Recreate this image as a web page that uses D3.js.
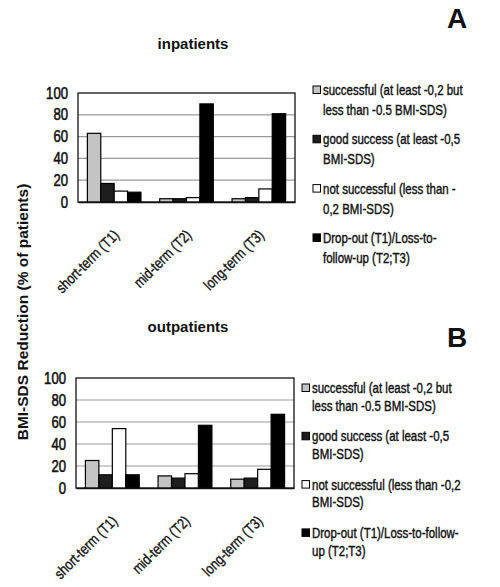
<!DOCTYPE html>
<html><head><meta charset="utf-8">
<script src="https://cdn.jsdelivr.net/npm/d3@7"></script>
<style>body{margin:0;background:#fff}</style>
</head><body>
<script>
const categories = ["short-term (T1)", "mid-term (T2)", "long-term (T3)"];
const seriesKeys = ["successful", "good", "notSuccessful", "dropout"];
const seriesColors = ["#c4c4c4", "#1e1e1e", "#ffffff", "#000000"];
const inSuccessful = [63, 3, 3];
const inGood = [17, 3, 4];
const inNotSuccessful = [10, 4, 12];
const inDropout = [9, 90, 81];
const outSuccessful = [25, 11, 8];
const outGood = [12, 9, 9];
const outNotSuccessful = [54, 13, 17];
const outDropout = [12, 57, 67];
const yTicks = [0, 20, 40, 60, 80, 100];
const legendA = [["successful (at least -0,2 but", "less than -0.5 BMI-SDS)"], ["good success (at least -0,5", "BMI-SDS)"], ["not successful (less than -", "0,2 BMI-SDS)"], ["Drop-out (T1)/Loss-to-", "follow-up (T2;T3)"]];
const legendB = [["successful (at least -0,2 but", "less than -0.5 BMI-SDS)"], ["good success (at least -0,5", "BMI-SDS)"], ["not successful (less than -0,2", "BMI-SDS)"], ["Drop-out (T1)/Loss-to-follow-", "up (T2;T3)"]];

const W = 500, H = 587;
const sans = "'Liberation Sans', Arial, sans-serif";
const NX = 0.82; // horizontal condensing to mimic a narrow face
const svg = d3.select("body").append("svg").attr("width", W).attr("height", H);

function panel(cfg) {
  const {left, right, top, bottom, data, legend, title, titleX, titleY, letter, letterY, legX, legY, legStep, lineGap} = cfg;
  const g = svg.append("g");
  const x0 = d3.scaleBand().domain(categories).range([left, right]).padding(0);
  const x1 = d3.scaleBand().domain(seriesKeys).range([0, x0.bandwidth()]).paddingInner(0).paddingOuter(0.7);
  const y = d3.scaleLinear().domain([0, 100]).range([bottom, top]);
  g.append("g").selectAll("line").data(yTicks.slice(1, -1)).join("line")
    .attr("x1", left).attr("x2", right).attr("y1", d => y(d)).attr("y2", d => y(d))
    .attr("stroke", "#9a9a9a").attr("stroke-width", 1.2);
  g.append("rect").attr("x", left).attr("y", top).attr("width", right - left).attr("height", bottom - top)
    .attr("fill", "none").attr("stroke", "#111").attr("stroke-width", 1.3);
  const rows = categories.map((c, i) => ({cat: c, vals: seriesKeys.map((k, j) => ({k, j, v: data[j][i]}))}));
  g.append("g").selectAll("g").data(rows).join("g")
    .attr("transform", d => `translate(${x0(d.cat)},0)`)
    .selectAll("rect").data(d => d.vals).join("rect")
    .attr("x", d => x1(d.k)).attr("width", x1.bandwidth())
    .attr("y", d => y(d.v)).attr("height", d => y(0) - y(d.v))
    .attr("fill", d => seriesColors[d.j]).attr("stroke", "#000").attr("stroke-width", 1.2);
  const ya = g.append("g").attr("transform", `translate(${left},0)`)
    .call(d3.axisLeft(y).tickValues(yTicks).tickSize(0).tickPadding(0));
  ya.select(".domain").remove();
  ya.selectAll("text").attr("font-family", sans).attr("font-size", 16).attr("fill", "#111")
    .attr("stroke", "#111").attr("stroke-width", 0.55).attr("x", 0)
    .attr("transform", `translate(-10,0) scale(${NX},1)`);
  const xa = g.append("g").attr("transform", `translate(0,${bottom})`)
    .call(d3.axisBottom(x0).tickSize(0).tickPadding(0));
  xa.select(".domain").attr("stroke", "#111").attr("stroke-width", 1.3);
  xa.selectAll("text").attr("font-family", sans).attr("font-size", 15).attr("fill", "#111")
    .attr("stroke", "#111").attr("stroke-width", 0.35)
    .attr("text-anchor", "end").attr("dy", 0).attr("y", 0)
    .attr("transform", `translate(6,34) rotate(-45) scale(${NX},1)`);
  svg.append("text").attr("x", titleX).attr("y", titleY).attr("text-anchor", "middle")
    .attr("font-family", sans).attr("font-weight", "bold").attr("font-size", 15)
    .attr("fill", "#111").text(title);
  svg.append("text").attr("x", 457).attr("y", letterY).attr("text-anchor", "middle")
    .attr("font-family", sans).attr("font-weight", "bold").attr("font-size", 28)
    .attr("fill", "#111").text(letter);
  const lg = svg.append("g");
  legend.forEach((lines, i) => {
    const cy = legY + i * legStep;
    lg.append("rect").attr("x", legX).attr("y", cy - 4).attr("width", 7.5).attr("height", 7.5)
      .attr("fill", seriesColors[i]).attr("stroke", "#000").attr("stroke-width", 1);
    lines.forEach((t, k) => {
      lg.append("text").attr("transform", `translate(${legX + 10},${cy + k * lineGap + 5}) scale(${NX},1)`)
        .attr("font-family", sans).attr("font-size", 14).attr("fill", "#111")
        .attr("stroke", "#111").attr("stroke-width", 0.4).text(t);
    });
  });
}

panel({left: 78, right: 295, top: 93, bottom: 202,
  data: [inSuccessful, inGood, inNotSuccessful, inDropout], legend: legendA,
  title: "inpatients", titleX: 193, titleY: 49, letter: "A", letterY: 28,
  legX: 313, legY: 90, legStep: 49.3, lineGap: 20});
panel({left: 76, right: 294, top: 378, bottom: 488,
  data: [outSuccessful, outGood, outNotSuccessful, outDropout], legend: legendB,
  title: "outpatients", titleX: 188, titleY: 332, letter: "B", letterY: 347,
  legX: 302, legY: 388, legStep: 48.3, lineGap: 17.7});

svg.append("text").attr("transform", "translate(28,312) rotate(-90)").attr("text-anchor", "middle")
  .attr("font-family", sans).attr("font-weight", "bold").attr("font-size", 15.5)
  .attr("fill", "#111").text("BMI-SDS Reduction (% of patients)");
</script>
</body></html>
